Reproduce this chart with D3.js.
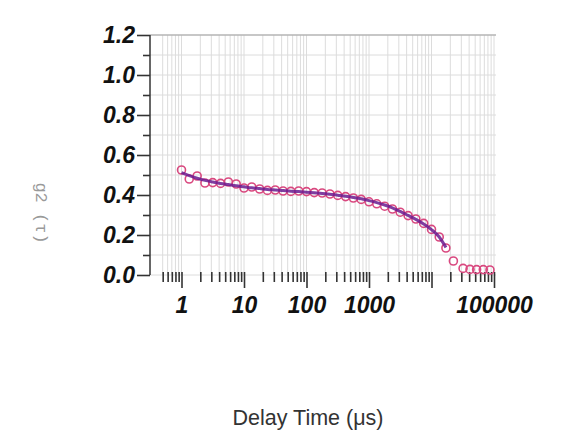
<!DOCTYPE html>
<html><head><meta charset="utf-8">
<script src="https://cdn.jsdelivr.net/npm/d3@7"></script>
<style>body{margin:0;background:#fff}svg{display:block}</style>
</head><body>
<svg id="c" width="569" height="437"></svg>
<script>
// Data
const delayTimes = [1, 1.33, 1.78, 2.37, 3.16, 4.22, 5.62, 7.5, 10, 13.3, 17.8, 23.7, 31.6, 42.2, 56.2, 75, 100, 133, 178, 237, 316, 422, 562, 750, 1000, 1330, 1780, 2370, 3160, 4220, 5620, 7500, 10000, 13300, 17000, 22400, 32000, 41300, 52700, 67400, 86300];
const g2Measured = [0.525, 0.48, 0.495, 0.46, 0.462, 0.458, 0.465, 0.455, 0.435, 0.44, 0.43, 0.423, 0.425, 0.42, 0.418, 0.42, 0.417, 0.412, 0.41, 0.405, 0.398, 0.392, 0.385, 0.378, 0.366, 0.356, 0.344, 0.33, 0.314, 0.297, 0.28, 0.258, 0.228, 0.19, 0.135, 0.07, 0.033, 0.028, 0.027, 0.027, 0.025];
const fitTimes = [1, 1.33, 1.78, 2.37, 3.16, 4.22, 5.62, 7.5, 10, 13.3, 17.8, 23.7, 31.6, 42.2, 56.2, 75, 100, 133, 178, 237, 316, 422, 562, 750, 1000, 1330, 1780, 2370, 3160, 4220, 5620, 7500, 10000, 13300, 17000];
const g2Fit = [0.512, 0.497, 0.484, 0.473, 0.465, 0.458, 0.452, 0.446, 0.441, 0.436, 0.432, 0.428, 0.425, 0.422, 0.419, 0.417, 0.414, 0.411, 0.408, 0.404, 0.399, 0.394, 0.388, 0.381, 0.372, 0.362, 0.35, 0.336, 0.318, 0.298, 0.278, 0.255, 0.227, 0.19, 0.138];
const xTickValues = [1, 10, 100, 1000, 10000, 100000];
const xTickLabels = ["1", "10", "100", "1000", "", "100000"];
const yTickValues = [0, 0.2, 0.4, 0.6, 0.8, 1.0, 1.2];
const yTickLabels = ["0.0", "0.2", "0.4", "0.6", "0.8", "1.0", "1.2"];

const svg = d3.select("#c");
const pLeft = 150, pRight = 496, pTop = 35, pBottom = 275;
const x = d3.scaleLog().domain([Math.pow(10, -0.504), Math.pow(10, 5.032)]).range([pLeft, pRight]);
const y = d3.scaleLinear().domain([0, 1.2]).range([pBottom, pTop]);

// minor x positions
const minorX = [];
for (let d = -1; d <= 4; d++) for (let m = 2; m <= 9; m++) {
  const v = m * Math.pow(10, d);
  if (v >= 0.5 && v < 100000) minorX.push(v);
}
const allX = minorX.concat(xTickValues);

// grid
const grid = svg.append("g");
grid.selectAll("line.v").data(allX).join("line")
  .attr("x1", d => x(d)).attr("x2", d => x(d))
  .attr("y1", pTop).attr("y2", pBottom)
  .attr("stroke", "#dcdcdc").attr("stroke-width", 1);
const yMinor = d3.range(0, 13).map(i => i / 10);
grid.selectAll("line.h").data(yMinor).join("line")
  .attr("x1", pLeft).attr("x2", pRight)
  .attr("y1", d => y(d)).attr("y2", d => y(d))
  .attr("stroke", d => d >= 1.19 ? "#b5b5b5" : "#dcdcdc").attr("stroke-width", d => d >= 1.19 ? 1.5 : 1);

// y axis
const yAxis = d3.axisLeft(y).tickValues(yTickValues).tickFormat((d, i) => yTickLabels[i]).tickSize(13).tickPadding(2);
const yg = svg.append("g").attr("transform", `translate(${pLeft},0)`).call(yAxis);
yg.select(".domain").remove();
yg.append("line").attr("x1", 0).attr("x2", 0).attr("y1", pTop).attr("y2", pBottom).attr("stroke", "#333").attr("stroke-width", 1.5);
yg.selectAll(".tick line").attr("stroke", "#333").attr("stroke-width", 1.6);
yg.selectAll(".tick text").attr("font-family", "Liberation Sans, Arial, sans-serif").attr("font-weight", "bold")
  .attr("font-style", "italic").attr("font-size", 23).attr("fill", "#111");
const yMinorAxis = d3.axisLeft(y).tickValues(d3.range(1, 12, 2).map(i => i / 10)).tickSize(7).tickFormat("");
const ym = svg.append("g").attr("transform", `translate(${pLeft},0)`).call(yMinorAxis);
ym.select(".domain").remove();
ym.selectAll(".tick line").attr("stroke", "#333").attr("stroke-width", 1.6);

// x axis
const xAxis = d3.axisBottom(x).tickValues(xTickValues).tickFormat((d, i) => xTickLabels[i]).tickSize(16).tickPadding(9);
const xg = svg.append("g").attr("transform", `translate(0,${pBottom - 3})`).call(xAxis);
xg.select(".domain").remove();
xg.selectAll(".tick line").attr("stroke", "#333").attr("stroke-width", 1.6);
xg.selectAll(".tick text").attr("font-family", "Liberation Sans, Arial, sans-serif").attr("font-weight", "bold")
  .attr("font-style", "italic").attr("font-size", 23).attr("fill", "#111");
const xMinorAxis = d3.axisBottom(x).tickValues(minorX).tickSize(10).tickFormat("");
const xm = svg.append("g").attr("transform", `translate(0,${pBottom - 3})`).call(xMinorAxis);
xm.select(".domain").remove();
xm.selectAll(".tick line").attr("stroke", "#333").attr("stroke-width", 1.6);

// markers
svg.append("g").selectAll("circle").data(delayTimes).join("circle")
  .attr("cx", d => x(d)).attr("cy", (d, i) => y(g2Measured[i])).attr("r", 4)
  .attr("fill", "none").attr("stroke", "#d9487f").attr("stroke-width", 1.6);

// fit
const line = d3.line().x(d => x(d[0])).y(d => y(d[1])).curve(d3.curveMonotoneX);
svg.append("path").datum(fitTimes.map((t, i) => [t, g2Fit[i]]))
  .attr("d", line).attr("fill", "none").attr("stroke", "#6a1b8f").attr("stroke-width", 3).attr("opacity", 0.85);

// titles
svg.append("text").attr("x", 308).attr("y", 425).attr("text-anchor", "middle")
  .attr("font-family", "Liberation Sans, Arial, sans-serif").attr("font-size", 21.5).attr("fill", "#333")
  .text("Delay Time (μs)");
svg.append("text").attr("transform", "translate(36,213) rotate(90)").attr("text-anchor", "middle")
  .attr("font-family", "Liberation Mono, Courier New, monospace").attr("font-size", 17).attr("fill", "#999")
  .text("g2 (τ)");
</script>
</body></html>
